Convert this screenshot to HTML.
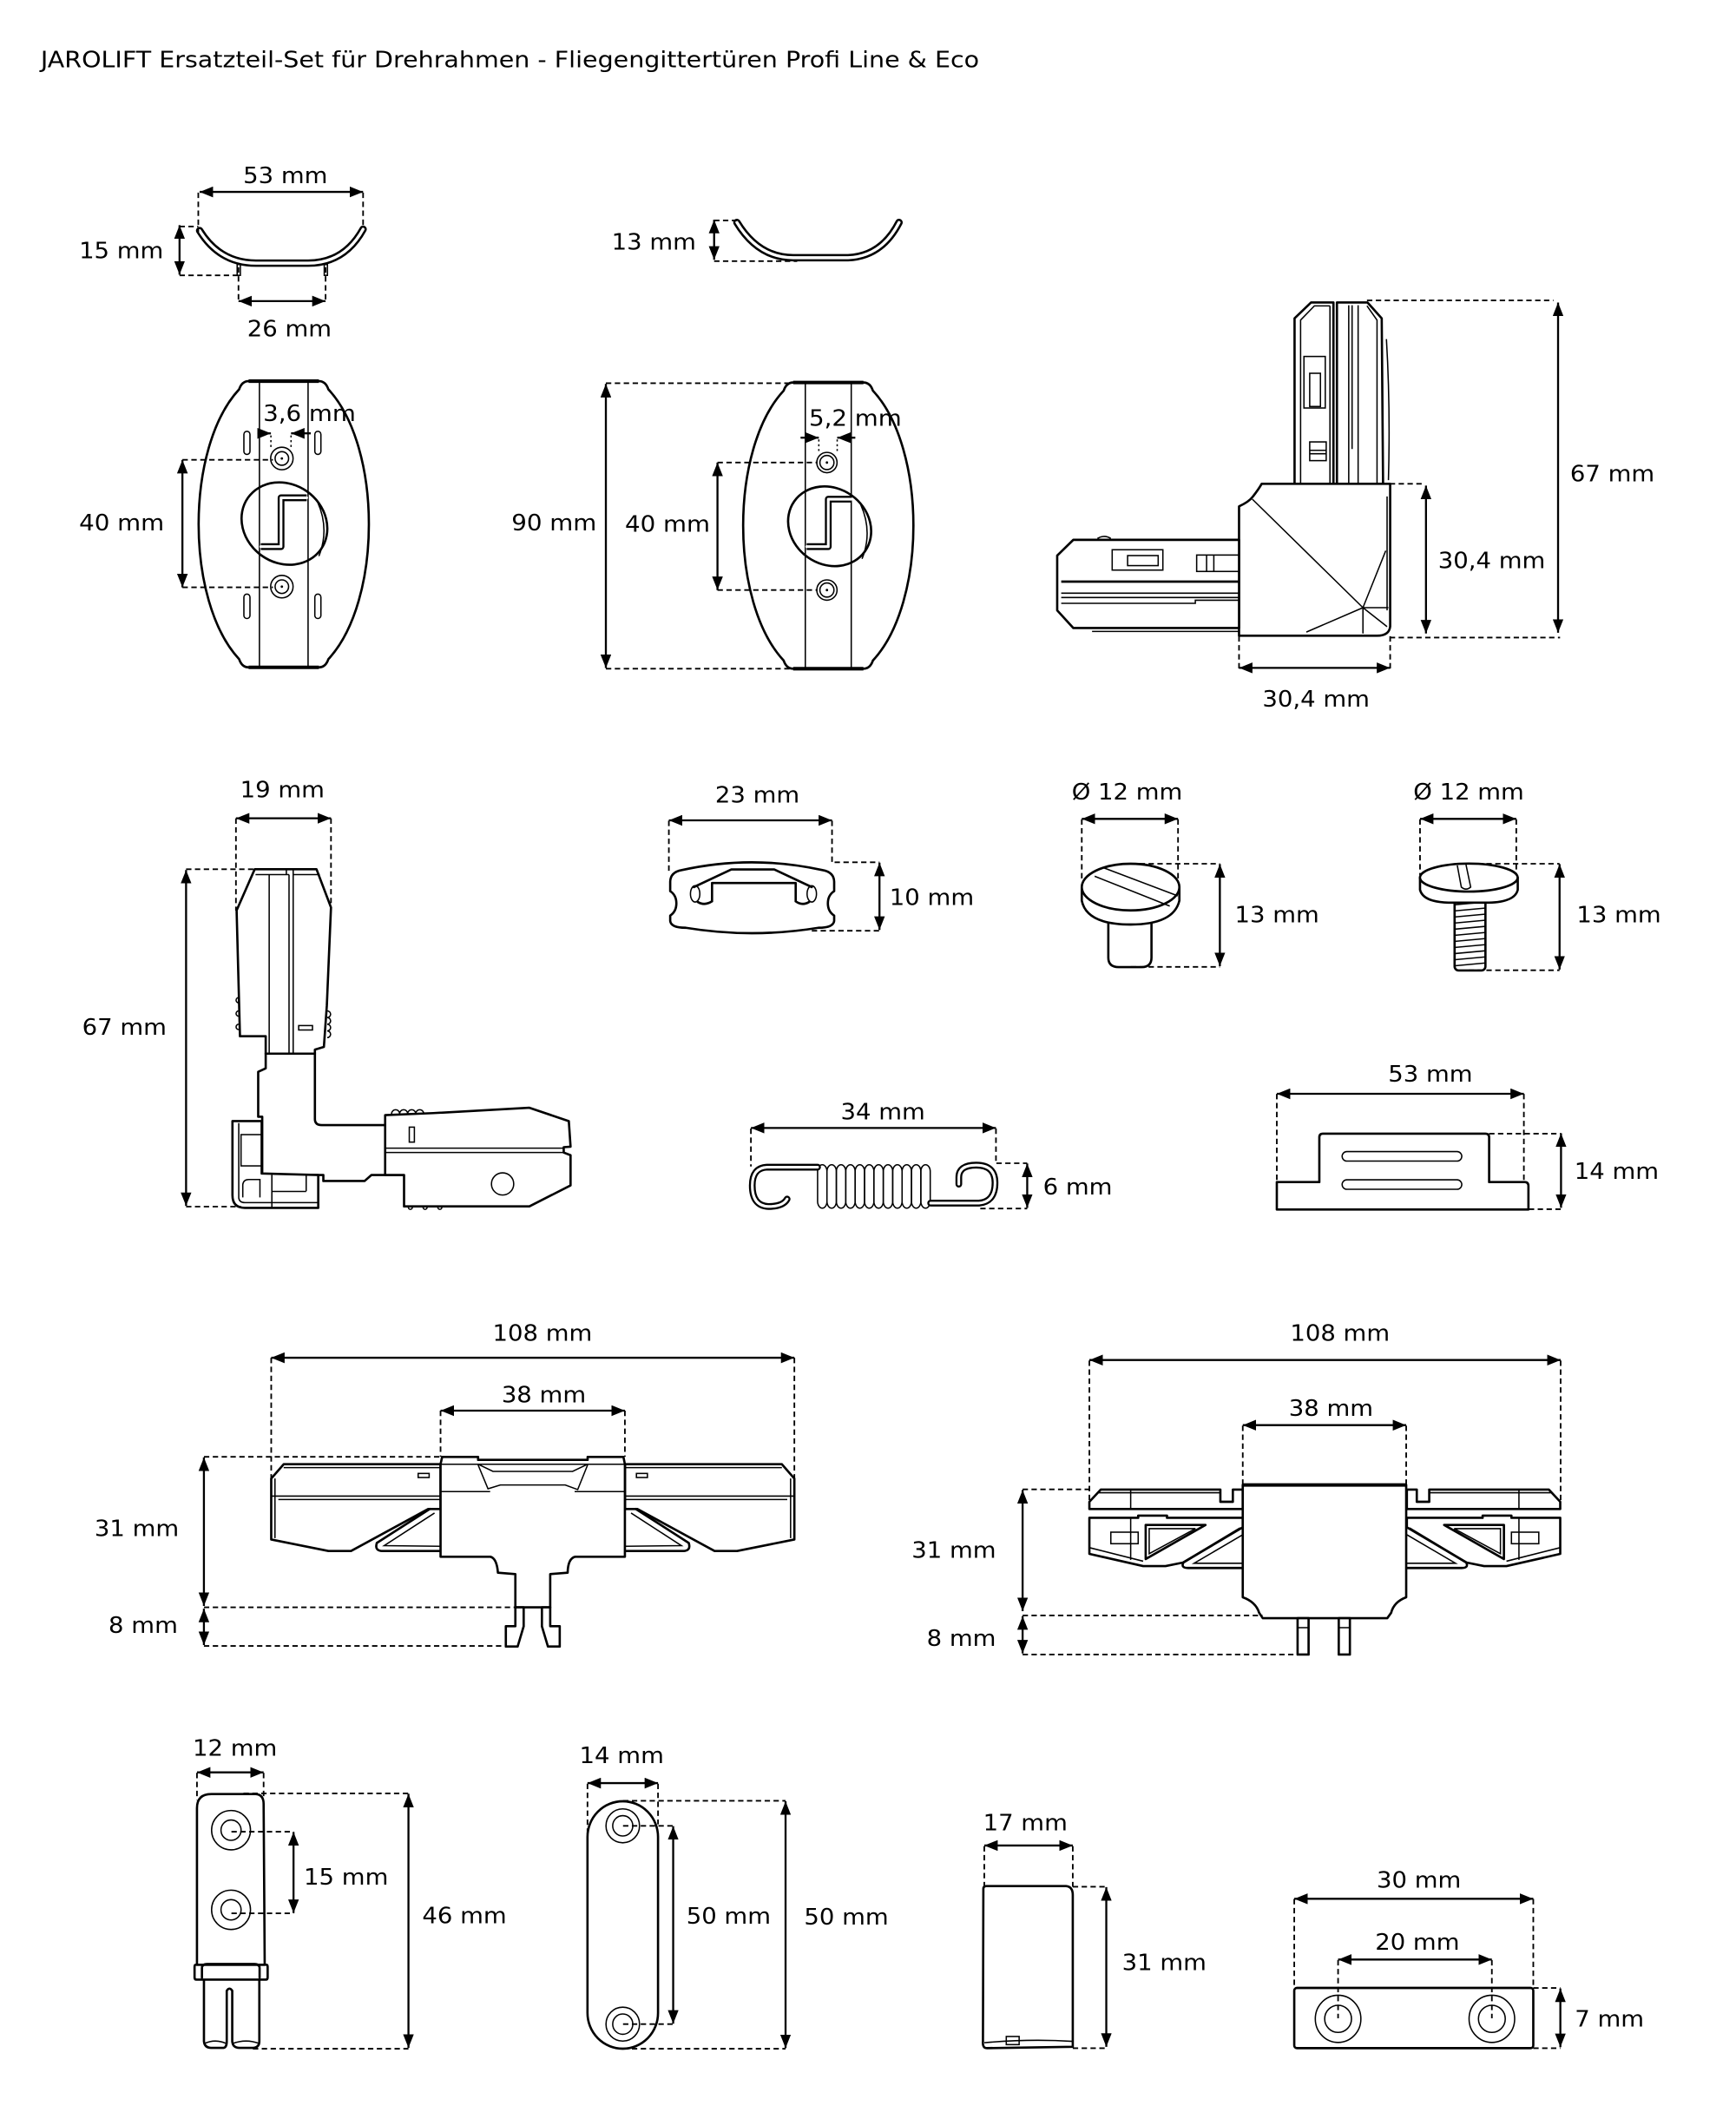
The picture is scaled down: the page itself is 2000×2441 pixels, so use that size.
<!DOCTYPE html>
<html><head><meta charset="utf-8">
<style>
html,body{margin:0;padding:0;background:#fff}
svg{display:block}
text{font-family:"DejaVu Sans","Liberation Sans",sans-serif;font-size:16.5px;fill:#000}
.d{stroke:#000;stroke-width:1.5;fill:none}
.ds{stroke:#000;stroke-width:1.2;fill:none;stroke-dasharray:4 2.6}
.o{stroke:#000;stroke-width:1.7;fill:#fff;stroke-linejoin:round;stroke-linecap:round}
.n{stroke:#000;stroke-width:1.7;fill:none;stroke-linejoin:round;stroke-linecap:round}
.t{stroke:#000;stroke-width:1;fill:none}
.w{stroke:#fff;fill:none;stroke-linecap:round;stroke-linejoin:round}
</style></head>
<body>
<svg width="2000" height="2441" viewBox="0 0 1280 1562.24" xmlns="http://www.w3.org/2000/svg">
<defs>
<marker id="a" viewBox="0 0 10 8" refX="10" refY="4" markerWidth="10" markerHeight="8" markerUnits="userSpaceOnUse" orient="auto-start-reverse"><path d="M0,0 L10,4 L0,8 Z" fill="#000"/></marker>
</defs>
<rect width="1280" height="1562.24" fill="#fff"/>

<text x="30" y="49.5" font-size="15.5" textLength="692" lengthAdjust="spacingAndGlyphs">JAROLIFT Ersatzteil-Set für Drehrahmen - Fliegengittertüren Profi Line &amp; Eco</text>

<!-- ===== ROW 1 ===== -->
<g transform="matrix(0.9879,0,0,1,0,-1)">
<!-- curved clip 1 -->
<path d="M149,171 Q164,195 191,195 L230,195 Q257,195 271,170" stroke="#000" stroke-width="5.5" fill="none" stroke-linecap="round"/>
<path d="M149,171 Q164,195 191,195 L230,195 Q257,195 271,170" class="w" stroke-width="2.2"/>
<rect x="177" y="196" width="2.4" height="8" class="t" fill="#fff"/>
<rect x="242" y="196" width="2.4" height="8" class="t" fill="#fff"/>
<line class="d" x1="149" y1="142.5" x2="271" y2="142.5" marker-start="url(#a)" marker-end="url(#a)"/>
<path class="ds" d="M148,143 V172 M271,143 V169"/>
<line class="d" x1="134" y1="167" x2="134" y2="203.5" marker-start="url(#a)" marker-end="url(#a)"/>
<path class="ds" d="M134,168 H148 M134,204 H178"/>
<line class="d" x1="178" y1="223" x2="243" y2="223" marker-start="url(#a)" marker-end="url(#a)"/>
<path class="ds" d="M178,198 V223 M243,198 V223"/>
<text x="213" y="136" text-anchor="middle" textLength="63" lengthAdjust="spacingAndGlyphs">53 mm</text>
<text x="90.5" y="191.5" text-anchor="middle" textLength="63" lengthAdjust="spacingAndGlyphs">15 mm</text>
<text x="216" y="249" text-anchor="middle" textLength="63" lengthAdjust="spacingAndGlyphs">26 mm</text>

<!-- curved clip 2 -->
<path d="M550,165 Q566,191 592,191 L633,191 Q658,190 671,165" stroke="#000" stroke-width="5.5" fill="none" stroke-linecap="round"/>
<path d="M550,165 Q566,191 592,191 L633,191 Q658,190 671,165" class="w" stroke-width="2.2"/>
<line class="d" x1="533" y1="163" x2="533" y2="192.5" marker-start="url(#a)" marker-end="url(#a)"/>
<path class="ds" d="M533,163.5 H550 M533,193.5 H595"/>
<text x="488" y="185" text-anchor="middle" textLength="63" lengthAdjust="spacingAndGlyphs">13 mm</text>
</g>

<!-- ===== ROW 2 ===== -->
<g transform="matrix(0.99627,0,0,1,0,0)">
<!-- keeper 1 -->
<path class="o" stroke-width="1.9" d="M184,281 L236,281 Q241,281 243,287 C283,330 283,443 243,486 Q241,492 236,492 L184,492 Q179,492 177,486 C137,443 137,330 177,287 Q179,281 184,281 Z"/>
<path d="M184,281 H236 M184,492 H236" stroke="#000" stroke-width="2.6"/>
<ellipse cx="210.5" cy="386" rx="33" ry="29" transform="rotate(35 210.5 386)" class="o" stroke-width="1.3"/>
<path class="t" d="M235,370 Q244,390 236,410"/>
<line class="t" stroke-width="1.2" x1="192" y1="281" x2="192" y2="492"/>
<line class="t" stroke-width="1.2" x1="228" y1="281" x2="228" y2="492"/>
<path d="M193,403 H208 V367 H227" stroke="#000" stroke-width="5" fill="none" stroke-linejoin="round"/>
<path d="M193,403 H208 V367 H227" class="w" stroke-width="2" stroke-linecap="butt"/>
<rect x="180.5" y="318" width="4.5" height="17" rx="2.2" class="t" stroke-width="1.2"/>
<rect x="233" y="318" width="4.5" height="17" rx="2.2" class="t" stroke-width="1.2"/>
<rect x="180.5" y="438" width="4.5" height="18" rx="2.2" class="t" stroke-width="1.2"/>
<rect x="233" y="438" width="4.5" height="18" rx="2.2" class="t" stroke-width="1.2"/>
<circle cx="208.6" cy="338" r="8.3" class="t" stroke-width="1.2" fill="#fff"/>
<circle cx="208.6" cy="338" r="5" class="t" stroke-width="1.2"/>
<circle cx="208.6" cy="338" r="0.9" fill="#000"/>
<circle cx="208.6" cy="432.5" r="8.3" class="t" stroke-width="1.2" fill="#fff"/>
<circle cx="208.6" cy="432.5" r="5" class="t" stroke-width="1.2"/>
<circle cx="208.6" cy="432.5" r="0.9" fill="#000"/>
<line class="d" x1="190.5" y1="319.5" x2="200.5" y2="319.5" marker-end="url(#a)"/>
<line class="d" x1="230" y1="319.5" x2="215.4" y2="319.5" marker-end="url(#a)"/>
<path class="t" stroke-dasharray="1.5 2" d="M200.5,321 V331 M215.4,321 V331"/>
<line class="d" x1="135" y1="339" x2="135" y2="433" marker-start="url(#a)" marker-end="url(#a)"/>
<path class="ds" d="M135,339 H202 M135,433 H202"/>
<text x="229" y="310.5" text-anchor="middle" textLength="68.6" lengthAdjust="spacingAndGlyphs">3,6 mm</text>
<text x="90" y="391" text-anchor="middle" textLength="63" lengthAdjust="spacingAndGlyphs">40 mm</text>

<!-- keeper 2 -->
<path class="o" stroke-width="1.9" d="M587,282 L639,282 Q644,282 646,288 C686,331 686,444 646,487 Q644,493 639,493 L587,493 Q582,493 580,487 C540,444 540,331 580,288 Q582,282 587,282 Z"/>
<path d="M587,282 H639 M587,493 H639" stroke="#000" stroke-width="2.6"/>
<ellipse cx="614" cy="388" rx="32" ry="28" transform="rotate(35 614 388)" class="o" stroke-width="1.3"/>
<path class="t" d="M637,372 Q646,392 638,412"/>
<line class="t" stroke-width="1.2" x1="596" y1="282" x2="596" y2="493"/>
<line class="t" stroke-width="1.2" x1="630" y1="282" x2="630" y2="493"/>
<path d="M597,403 H613 V368 H630" stroke="#000" stroke-width="5" fill="none" stroke-linejoin="round"/>
<path d="M597,403 H613 V368 H630" class="w" stroke-width="2" stroke-linecap="butt"/>
<circle cx="612" cy="341" r="7.5" class="t" stroke-width="1.2" fill="#fff"/>
<circle cx="612" cy="341" r="5.2" class="t" stroke-width="1.2"/>
<circle cx="612" cy="341" r="0.9" fill="#000"/>
<circle cx="612" cy="435" r="7.5" class="t" stroke-width="1.2" fill="#fff"/>
<circle cx="612" cy="435" r="5.2" class="t" stroke-width="1.2"/>
<circle cx="612" cy="435" r="0.9" fill="#000"/>
<line class="d" x1="592.5" y1="322.7" x2="606" y2="322.7" marker-end="url(#a)"/>
<line class="d" x1="633" y1="322.7" x2="619.6" y2="322.7" marker-end="url(#a)"/>
<path class="t" stroke-dasharray="1.5 2" d="M606,324 V334 M619.6,324 V334"/>
<line class="d" x1="448.4" y1="283" x2="448.4" y2="492.5" marker-start="url(#a)" marker-end="url(#a)"/>
<path class="ds" d="M448.4,282.5 H587 M448.4,493 H587"/>
<line class="d" x1="531" y1="341" x2="531" y2="435" marker-start="url(#a)" marker-end="url(#a)"/>
<path class="ds" d="M531,341 H605 M531,435 H605"/>
<text x="633" y="314" text-anchor="middle" textLength="68.6" lengthAdjust="spacingAndGlyphs">5,2 mm</text>
<text x="410" y="391" text-anchor="middle" textLength="63" lengthAdjust="spacingAndGlyphs">90 mm</text>
<text x="494" y="392" text-anchor="middle" textLength="63" lengthAdjust="spacingAndGlyphs">40 mm</text>
</g>

<!-- corner piece top right -->
<g transform="matrix(0.98876,0,0,1,8.27,0)">
<path class="o" d="M957,357 L957,234.7 L969.3,223 L986,223 L986,357 Z"/>
<path class="o" d="M988.6,357 L988.6,223 L1011.4,223 L1022,234.7 L1023,357 Z"/>
<path class="t" d="M961.5,356 V236 L971.8,225.5 H983.4 M983.4,225.5 V356 M997.4,225 V356 M999.9,225 V331 M1004.4,225 V356 M1011,225.5 L1018.5,236 V356"/>
<path class="t" d="M1025.5,250 Q1028.5,300 1027,354"/>
<rect x="964" y="262.8" width="15.9" height="38" class="t" stroke-width="1.3"/>
<rect x="968.3" y="275.2" width="8" height="24.5" class="t" stroke-width="1.2"/>
<rect x="968.3" y="325.8" width="12.3" height="13.8" class="t" stroke-width="1.3"/>
<path class="t" d="M968.3,332 H980.6 M968.3,334.5 H980.6"/>
<path class="o" d="M932.5,356.7 L1028.3,356.7 L1028.3,461.9 Q1027.5,468.7 1018.5,468.7 L915.6,468.7 L915.6,373.3 Q923,370 926,366 Q930,361 932.5,356.7 Z"/>
<path class="t" d="M925.5,368 L1008,448 H1027 M1008,448 V467 M1008,448 L965.8,466 M1008,448 L1026,462 M1008,448 L1025,406 M1026,366 V450"/>
<path class="o" d="M915.6,398 L792,398 L780,409.6 L780,450 L792,463 L915.6,463 Z"/>
<path d="M783,428.8 H915.6" stroke="#000" stroke-width="1.8"/>
<path class="t" d="M783,437.3 H915 M783,440.5 H915 M783,444.8 H883 V442.5 H915 M806,465.5 H915 M810,397 Q815,394 820,397"/>
<rect x="821" y="405.3" width="37.8" height="15" class="t" stroke-width="1.3"/>
<rect x="832.5" y="409.6" width="22.8" height="7.4" class="t" stroke-width="1.3"/>
<rect x="884" y="409.2" width="31.6" height="12.1" class="t" stroke-width="1.3"/>
<path class="t" d="M891.4,409.2 V421.3 M896.8,409.2 V421.3"/>
<line class="d" x1="1153.5" y1="223" x2="1153.5" y2="466.5" marker-start="url(#a)" marker-end="url(#a)"/>
<path class="ds" d="M1011,221.5 H1150 M1028,470 H1155"/>
<line class="d" x1="1055" y1="358" x2="1055" y2="467" marker-start="url(#a)" marker-end="url(#a)"/>
<path class="ds" d="M1028,356.7 H1054"/>
<line class="d" x1="915.6" y1="492.4" x2="1028.3" y2="492.4" marker-start="url(#a)" marker-end="url(#a)"/>
<path class="ds" d="M915.6,469 V495 M1028.3,469 V495"/>
<text x="1194" y="355" text-anchor="middle" textLength="63" lengthAdjust="spacingAndGlyphs">67 mm</text>
<text x="1104" y="419" text-anchor="middle" textLength="80" lengthAdjust="spacingAndGlyphs">30,4 mm</text>
<text x="973" y="521" text-anchor="middle" textLength="80" lengthAdjust="spacingAndGlyphs">30,4 mm</text>
</g>

<!-- ===== ROW 3 ===== -->
<!-- corner piece left -->
<g transform="matrix(0.98846,0,0,0.98523,0.591,8.319)">
<path class="o" d="M189.4,642 L235.5,642 L246.3,670.6 L243.2,744 L241,775 L234.3,777 L234.3,780 L197.6,780 L197.6,767 L178.4,767 L175.9,672.8 Z"/>
<path class="t" d="M200.2,646 V780 M215,646 V780 M218.1,642 V780 M213,642 V646 M190,646 H215 M218,646 H238"/>
<path class="t" d="M243.5,748 a2.5,2.5 0 0 1 0,5 a2.5,2.5 0 0 1 0,5 a2.5,2.5 0 0 1 0,5 a2.5,2.5 0 0 1 0,5 M177.5,738 a2,2 0 0 0 0,4 M177.5,748 a2,2 0 0 0 0,4 M177.5,758 a2,2 0 0 0 0,4"/>
<rect x="222.2" y="759" width="10.3" height="3.3" class="t"/>
<path class="o" d="M197.6,780 L197.6,791 L192,793.6 L192,827.2 L195,827.2 L195,870.8 L236.8,870.8 L240.6,870.8 L240.6,875.3 L271.4,875.3 L276.5,870.8 L300.8,870.8 L300.8,833.5 L239.4,833.5 Q234.3,833.5 234.3,829 L234.3,780 Z"/>
<path class="o" d="M172.8,830.5 L194.6,830.5 L194.6,869.7 L236.8,870.8 L236.8,895.4 L182,895.4 Q172.8,895.4 172.8,886 Z"/>
<path class="t" d="M177.5,832 V888 Q178,891.5 182,891.5 H236.8 M202.2,870.8 V895.4 M227.8,870.8 V883 M202.2,883.1 H227.8"/>
<rect x="179.2" y="840.6" width="15.4" height="23.4" class="t"/>
<path class="t" d="M180.5,887.6 V878 Q181,874.2 185,874.2 H193.3 V887.6"/>
<path class="o" d="M286.7,833.5 L286.7,826 L322.6,824.5 L394.3,820.5 L423.7,830.5 L425,849.6 L419.9,850 L419.9,854 L425,856 L425,878.6 L394.3,894.3 L300.8,894.3 L300.8,870.8 L286.7,870.8 Z"/>
<path class="t" d="M291.5,825 a3,3 0 0 1 6,0 a3,3 0 0 1 6,0 a3,3 0 0 1 6,0 a3,3 0 0 1 6,0"/>
<path class="t" d="M286.7,850.7 H420 M286.7,854 H420"/>
<rect x="304.7" y="835" width="3.8" height="11.2" class="t" stroke-width="1.3"/>
<circle cx="374.3" cy="877.5" r="8.3" class="t" stroke-width="1.3"/>
<path class="t" d="M304,895 a1.5,1.5 0 0 0 3,0 M315,895 a1.5,1.5 0 0 0 3,0 M326,895 a1.5,1.5 0 0 0 3,0"/>
<line class="d" x1="175.4" y1="603.9" x2="246.3" y2="603.9" marker-start="url(#a)" marker-end="url(#a)"/>
<path class="ds" d="M175.4,604 V673 M246.3,604 V670"/>
<line class="d" x1="138.2" y1="642.6" x2="138.2" y2="893.9" marker-start="url(#a)" marker-end="url(#a)"/>
<path class="ds" d="M138.2,642 H189 M138.2,894.5 H179"/>
<text x="210" y="588.2" text-anchor="middle" textLength="63" lengthAdjust="spacingAndGlyphs">19 mm</text>
<text x="92.2" y="766" text-anchor="middle" textLength="63" lengthAdjust="spacingAndGlyphs">67 mm</text>
</g>

<g transform="matrix(0.98848,0,0,1,5.456,0)">
<!-- clip 23 -->
<path class="o" d="M503,641.5 Q555,630 608,641.5 Q616.5,643 616.7,650 L616.7,657 Q612,660 612,666 Q612,672 616.7,675 L616.7,679 Q616,684 605,684 Q555,692 506,684 Q495,684 494.4,679 L494.4,675 Q499,672 499,666 Q499,660 494.4,657 L494.4,650 Q494.6,643 503,641.5 Z"/>
<path class="n" stroke-width="1.4" d="M512,654 L540,641 H572 L600,654"/>
<path class="n" stroke-width="1.4" d="M525.6,664.5 V651 H588 V664.5 M525.6,664.5 Q520,668 515,665 M588,664.5 Q593,668 598,665"/>
<ellipse cx="513" cy="659" rx="3.5" ry="6" class="t" stroke-width="1.3"/>
<ellipse cx="600" cy="659" rx="3.5" ry="6" class="t" stroke-width="1.3"/>
<line class="d" x1="493.4" y1="604.8" x2="615.1" y2="604.8" marker-start="url(#a)" marker-end="url(#a)"/>
<path class="ds" d="M493.4,605 V644 M615.1,605 V638"/>
<line class="d" x1="650.5" y1="636" x2="650.5" y2="685.6" marker-start="url(#a)" marker-end="url(#a)"/>
<path class="ds" d="M617,635.7 H650.5 M600,686.2 H650.5"/>
<text x="559.4" y="591.6" text-anchor="middle" textLength="63" lengthAdjust="spacingAndGlyphs">23 mm</text>
<text x="689.5" y="667.3" text-anchor="middle" textLength="63" lengthAdjust="spacingAndGlyphs">10 mm</text>

<!-- screw 1 -->
<path class="o" d="M821.2,674 L821.2,706 Q821.2,713 829,713 L846,713 Q853.4,713 853.4,706 L853.4,674 Z"/>
<path class="o" d="M801.4,654 L801.4,664 Q805,681.6 837.8,681.6 Q870,681.6 874.2,664 L874.2,654 Z"/>
<ellipse cx="837.8" cy="654" rx="36.4" ry="17.2" class="o"/>
<path class="t" stroke-width="1.3" d="M811,646 L867,668 M817,639.5 L873,660.5"/>
<line class="d" x1="801.4" y1="603.7" x2="873.2" y2="603.7" marker-start="url(#a)" marker-end="url(#a)"/>
<path class="ds" d="M801.4,604 V648 M873.2,604 V650"/>
<line class="d" x1="904.4" y1="637" x2="904.4" y2="712.3" marker-start="url(#a)" marker-end="url(#a)"/>
<path class="ds" d="M838,636.8 H904.4 M838,712.8 H904.4"/>
<text x="835.2" y="589.5" text-anchor="middle" textLength="82.6" lengthAdjust="spacingAndGlyphs">Ø 12 mm</text>
<text x="947" y="680" text-anchor="middle" textLength="63" lengthAdjust="spacingAndGlyphs">13 mm</text>

<!-- screw 2 -->
<rect x="1079.5" y="662" width="23" height="53.5" rx="3" class="o" stroke-width="1.5"/>
<path class="t" d="M1080,667 L1102,665 M1080,671.5 L1102,669.5 M1080,676 L1102,674 M1080,680.5 L1102,678.5 M1080,685 L1102,683 M1080,689.5 L1102,687.5 M1080,694 L1102,692 M1080,698.5 L1102,696.5 M1080,703 L1102,701 M1080,707.5 L1102,705.5 M1080,712 L1102,710"/>
<path class="o" d="M1053.7,647 L1053.7,656 Q1056,665 1075,665.5 L1105,665.5 Q1124.5,665 1126.6,656 L1126.6,647 Z"/>
<ellipse cx="1090.1" cy="647" rx="36.45" ry="10.3" class="o"/>
<path class="t" stroke-width="1.3" d="M1081.5,638 L1084.5,654 Q1088,657 1091.5,654 L1088,637.5"/>
<line class="d" x1="1053.7" y1="603.7" x2="1125.5" y2="603.7" marker-start="url(#a)" marker-end="url(#a)"/>
<path class="ds" d="M1053.7,604 V645 M1125.5,604 V645"/>
<line class="d" x1="1157.8" y1="637" x2="1157.8" y2="714.8" marker-start="url(#a)" marker-end="url(#a)"/>
<path class="ds" d="M1090,636.8 H1157.8 M1090,715.3 H1157.8"/>
<text x="1090" y="589.5" text-anchor="middle" textLength="82.6" lengthAdjust="spacingAndGlyphs">Ø 12 mm</text>
<text x="1202" y="680" text-anchor="middle" textLength="63" lengthAdjust="spacingAndGlyphs">13 mm</text>
</g>

<g transform="matrix(0.98892,0,0,1,5.815,0)">
<!-- spring -->
<g class="t" stroke-width="1.2" fill="#fff">
<rect x="603.7" y="858.7" width="7" height="32" rx="3.5" ry="5"/>
<rect x="610.7" y="858.7" width="7" height="32" rx="3.5" ry="5"/>
<rect x="617.7" y="858.7" width="7" height="32" rx="3.5" ry="5"/>
<rect x="624.7" y="858.7" width="7" height="32" rx="3.5" ry="5"/>
<rect x="631.7" y="858.7" width="7" height="32" rx="3.5" ry="5"/>
<rect x="638.7" y="858.7" width="7" height="32" rx="3.5" ry="5"/>
<rect x="645.7" y="858.7" width="7" height="32" rx="3.5" ry="5"/>
<rect x="652.7" y="858.7" width="7" height="32" rx="3.5" ry="5"/>
<rect x="659.7" y="858.7" width="7" height="32" rx="3.5" ry="5"/>
<rect x="666.7" y="858.7" width="7" height="32" rx="3.5" ry="5"/>
<rect x="673.7" y="858.7" width="7" height="32" rx="3.5" ry="5"/>
<rect x="680.7" y="858.7" width="7" height="32" rx="3.5" ry="5"/>
</g>
<path d="M603.7,860.5 L566,860.5 Q555,861 555,874 Q555,889 567,889.5 Q578,889.5 581,884" stroke="#000" stroke-width="5" fill="none" stroke-linecap="round"/>
<path d="M603.7,860.5 L566,860.5 Q555,861 555,874 Q555,889 567,889.5 Q578,889.5 581,884" class="w" stroke-width="2"/>
<path d="M688,887 L724,887 Q736,886 736,872 Q736,859 722,859 Q709,859 709,868 L709,873" stroke="#000" stroke-width="5" fill="none" stroke-linecap="round"/>
<path d="M688,887 L724,887 Q736,886 736,872 Q736,859 722,859 Q709,859 709,868 L709,873" class="w" stroke-width="2"/>
<line class="d" x1="554" y1="831.6" x2="736.7" y2="831.6" marker-start="url(#a)" marker-end="url(#a)"/>
<path class="ds" d="M554,832 V860 M736.7,832 V858"/>
<line class="d" x1="760" y1="857.8" x2="760" y2="890.5" marker-start="url(#a)" marker-end="url(#a)"/>
<path class="ds" d="M737,857.6 H760 M725,891 H760"/>
<text x="652.4" y="825.2" text-anchor="middle" textLength="63" lengthAdjust="spacingAndGlyphs">34 mm</text>
<text x="797.6" y="880.7" text-anchor="middle" textLength="51.7" lengthAdjust="spacingAndGlyphs">6 mm</text>

<!-- part 53 -->
<path class="o" d="M946.1,871.5 L977.8,871.5 L977.8,838.5 Q977.8,835.8 980.5,835.8 L1101.5,835.8 Q1104.4,835.8 1104.4,838.5 L1104.4,871.5 L1131,871.5 Q1133.7,871.5 1133.7,874.5 L1133.7,891.7 L946.1,891.7 Z"/>
<rect x="994.8" y="849" width="89.2" height="7" rx="3.5" class="t" stroke-width="1.4"/>
<rect x="994.8" y="869.8" width="89.2" height="7" rx="3.5" class="t" stroke-width="1.4"/>
<line class="d" x1="946.1" y1="806.4" x2="1130.3" y2="806.4" marker-start="url(#a)" marker-end="url(#a)"/>
<path class="ds" d="M946.1,806.5 V872 M1130.3,806.5 V870"/>
<line class="d" x1="1158" y1="835.5" x2="1158" y2="890.5" marker-start="url(#a)" marker-end="url(#a)"/>
<path class="ds" d="M1104.4,835.8 H1158 M1134,891.5 H1158"/>
<text x="1060.6" y="797.5" text-anchor="middle" textLength="63" lengthAdjust="spacingAndGlyphs">53 mm</text>
<text x="1199.4" y="869" text-anchor="middle" textLength="63" lengthAdjust="spacingAndGlyphs">14 mm</text>
</g>

<!-- ===== ROW 4 ===== -->
<g transform="matrix(0.98854,0,0,1,0.587,0)">
<g id="h1">
<path class="o" d="M328,1079.5 L211,1079.5 L201.7,1090.1 L201.7,1135 L244.4,1143.5 L261.2,1143.5 L318.8,1112.5 L328,1112.5 Z"/>
<path class="t" d="M201.7,1103 H328 M207,1105.5 H328 M204.5,1090 V1134 M211,1082 H328"/>
<path class="n" stroke-width="1.4" d="M320,1112.5 L280.5,1137.5 Q278.5,1143.5 285,1143.5 L328,1143.5"/>
<path class="t" d="M323.5,1115.5 L286,1139.5 L328,1140"/>
<rect x="311.3" y="1086.3" width="8.2" height="3" class="t"/>
</g>
<use href="#h1" transform="translate(793.6,0) scale(-1,1)"/>
<path class="o" d="M328,1079.5 L329.2,1074.1 L356,1074.1 L356,1076.3 L437.7,1076.3 L437.7,1074.1 L464.4,1074.1 L465.5,1079.5 L465.5,1147.7 L428.4,1147.7 Q423,1149 422.8,1159.5 L409.8,1160.5 L409.8,1185 L383.8,1185 L383.8,1160.5 L370.8,1159.5 Q370,1149 365.2,1147.7 L328,1147.7 Z"/>
<path class="t" d="M328,1079.5 H465.5 M328,1099.7 H365 M428,1099.7 H465.5"/>
<path class="t" stroke-width="1.2" d="M356,1079.5 L367.1,1084.8 H426.5 L437.7,1079.5 M356,1080 L363.4,1097.6 L372.6,1094.8 H421 L430.3,1098.2 L437.7,1080"/>
<path class="o" stroke-width="1.4" d="M383.8,1185 L383.8,1198.9 L376.7,1198.9 L376.7,1213.9 L385.5,1213.9 L390,1199 L390,1185 Z"/>
<path class="o" stroke-width="1.4" d="M409.8,1185 L409.8,1198.9 L416.9,1198.9 L416.9,1213.9 L408.1,1213.9 L403.6,1199 L403.6,1185 Z"/>
<line class="d" x1="201.7" y1="1001" x2="591.9" y2="1001" marker-start="url(#a)" marker-end="url(#a)"/>
<path class="ds" d="M201.7,1001 V1090 M591.9,1001 V1090"/>
<line class="d" x1="328" y1="1040" x2="465.5" y2="1040" marker-start="url(#a)" marker-end="url(#a)"/>
<path class="ds" d="M328,1040 V1074 M465.5,1040 V1074"/>
<line class="d" x1="151.5" y1="1074.5" x2="151.5" y2="1184" marker-start="url(#a)" marker-end="url(#a)"/>
<line class="d" x1="151.5" y1="1186" x2="151.5" y2="1212.8" marker-start="url(#a)" marker-end="url(#a)"/>
<path class="ds" d="M151.5,1074 H328 M151.5,1185 H383.8 M151.5,1213.5 H374.5"/>
<text x="404" y="988.4" text-anchor="middle" textLength="74.3" lengthAdjust="spacingAndGlyphs">108 mm</text>
<text x="405" y="1033.8" text-anchor="middle" textLength="63" lengthAdjust="spacingAndGlyphs">38 mm</text>
<text x="101.4" y="1132.4" text-anchor="middle" textLength="63" lengthAdjust="spacingAndGlyphs">31 mm</text>
<text x="106.2" y="1203.9" text-anchor="middle" textLength="51.7" lengthAdjust="spacingAndGlyphs">8 mm</text>
</g>

<g transform="matrix(0.98854,0,0,1,7.554,0)">
<g id="h2">
<path class="o" d="M804.9,1112.5 L804.9,1107.2 L813.4,1098.2 L902.6,1098.2 L902.6,1107.2 L911.9,1107.2 L911.9,1098.2 L919.3,1098.2 L919.3,1112.5 Z"/>
<path class="t" d="M835.7,1098.2 V1112.5 M812,1100.5 H902"/>
<path class="o" d="M804.9,1119 L841.3,1119 L841.3,1117.4 L862.8,1117.4 L862.8,1119 L919.3,1119 L919.3,1126 L874.7,1152 L861.7,1154.6 L845,1154.6 L804.9,1145.6 Z"/>
<path class="t" d="M835.7,1119 V1150 M804.9,1141 L845,1151"/>
<path class="n" stroke-width="1.4" d="M917,1127 L875,1152 Q873,1156 878.5,1156 L919.3,1156"/>
<path class="t" d="M919.3,1131.5 L883,1152.5 H919.3"/>
<rect x="820.9" y="1129.6" width="20.4" height="8.5" class="t" stroke-width="1.3" fill="#fff"/>
<path class="n" stroke-width="1.4" d="M846.9,1124.3 H891.5 L846.9,1149.4 Z"/>
<path class="t" d="M849.5,1127 H884 L849.5,1145.5 Z"/>
</g>
<use href="#h2" transform="translate(1961,0) scale(-1,1)"/>
<path class="o" d="M919.3,1094.8 L1041.2,1094.8 L1041.2,1177.6 Q1032,1181 1030,1189 L1027.1,1193 L934.2,1193 L931.5,1189 Q929,1181 919.3,1177.6 Z"/>
<path d="M919.3,1094.8 H1041.2" stroke="#000" stroke-width="2.6"/>
<rect x="960.2" y="1193" width="8.2" height="26.8" class="o" stroke-width="1.4"/>
<rect x="990.9" y="1193" width="8.3" height="26.8" class="o" stroke-width="1.4"/>
<path class="t" d="M960.2,1200 H968.4 M990.9,1200 H999.2"/>
<line class="d" x1="804.9" y1="1002.7" x2="1156.4" y2="1002.7" marker-start="url(#a)" marker-end="url(#a)"/>
<path class="ds" d="M804.9,1003 V1107 M1156.4,1003 V1107"/>
<line class="d" x1="919.3" y1="1050.7" x2="1041.2" y2="1050.7" marker-start="url(#a)" marker-end="url(#a)"/>
<path class="ds" d="M919.3,1051 V1094.4 M1041.2,1051 V1094.4"/>
<line class="d" x1="755.1" y1="1098.5" x2="755.1" y2="1187.8" marker-start="url(#a)" marker-end="url(#a)"/>
<line class="d" x1="755.1" y1="1191.5" x2="755.1" y2="1219" marker-start="url(#a)" marker-end="url(#a)"/>
<path class="ds" d="M755.1,1098 H805 M755.1,1191 H934 M755.1,1219.8 H962"/>
<text x="991.8" y="988.4" text-anchor="middle" textLength="74.3" lengthAdjust="spacingAndGlyphs">108 mm</text>
<text x="985.1" y="1043.9" text-anchor="middle" textLength="63" lengthAdjust="spacingAndGlyphs">38 mm</text>
<text x="703.8" y="1148.4" text-anchor="middle" textLength="63" lengthAdjust="spacingAndGlyphs">31 mm</text>
<text x="709.4" y="1213.5" text-anchor="middle" textLength="51.7" lengthAdjust="spacingAndGlyphs">8 mm</text>
</g>

<!-- ===== ROW 5 ===== -->
<g transform="matrix(0.9888,0,0,1,0.573,0)">
<!-- hinge 12 -->
<path class="o" d="M151.5,1459.2 L151.5,1505 Q152,1509.8 157,1509.8 L166,1509.8 Q168.5,1509.5 168.5,1505 L168.5,1467.7 Q170.5,1464.5 172.6,1467.7 L172.6,1505 Q173,1509.8 178,1509.8 L188,1509.8 Q192.8,1509.5 192.8,1505 L192.8,1459.2 Z"/>
<path class="t" d="M152,1506.5 Q160,1503 168,1506.5 M173,1506.5 Q183,1503 192.5,1506.5"/>
<path class="o" d="M145.5,1448.5 L198,1448.5 Q199,1448.5 199,1450 L199,1458 Q199,1459.5 197.5,1459.5 L146,1459.5 Q144.5,1459.5 144.5,1458 L144.5,1450 Q144.5,1448.5 145.5,1448.5 Z"/>
<path class="o" d="M146.3,1448.5 L146.3,1333 Q146.3,1322.7 157,1322.7 L190,1322.7 Q196,1323 196,1330 L196.8,1448.5 Z"/>
<path class="n" stroke-width="1.4" d="M150,1458 V1451 Q150,1448 154,1448 H189 Q193,1448 193,1451 V1458"/>
<circle cx="171.7" cy="1349.3" r="14.5" class="t" stroke-width="1.3"/>
<circle cx="171.7" cy="1349.3" r="7.5" class="t" stroke-width="1.3"/>
<circle cx="171.7" cy="1408" r="14.5" class="t" stroke-width="1.3"/>
<circle cx="171.7" cy="1408" r="7.5" class="t" stroke-width="1.3"/>
<line class="d" x1="146.3" y1="1306.7" x2="196" y2="1306.7" marker-start="url(#a)" marker-end="url(#a)"/>
<path class="ds" d="M146.3,1307 V1327 M196,1307 V1325"/>
<line class="d" x1="218.3" y1="1350.6" x2="218.3" y2="1410.4" marker-start="url(#a)" marker-end="url(#a)"/>
<path class="ds" d="M172,1350.4 H218.3 M172,1410.6 H218.3"/>
<line class="d" x1="304" y1="1322.5" x2="304" y2="1509.8" marker-start="url(#a)" marker-end="url(#a)"/>
<path class="ds" d="M181,1322.2 H304 M188,1510.4 H304"/>
<text x="174.6" y="1294.5" text-anchor="middle" textLength="63" lengthAdjust="spacingAndGlyphs">12 mm</text>
<text x="257.5" y="1389.5" text-anchor="middle" textLength="63" lengthAdjust="spacingAndGlyphs">15 mm</text>
<text x="345.7" y="1417.8" text-anchor="middle" textLength="63" lengthAdjust="spacingAndGlyphs">46 mm</text>

<!-- oval 14 -->
<rect x="437.5" y="1328" width="52.6" height="182.4" rx="26.3" class="o"/>
<circle cx="463.8" cy="1346.1" r="12.5" class="t" stroke-width="1.3"/>
<circle cx="463.8" cy="1346.1" r="7.5" class="t" stroke-width="1.3"/>
<circle cx="463.8" cy="1492.3" r="12.5" class="t" stroke-width="1.3"/>
<circle cx="463.8" cy="1492.3" r="7.5" class="t" stroke-width="1.3"/>
<line class="d" x1="437.5" y1="1314.6" x2="490.1" y2="1314.6" marker-start="url(#a)" marker-end="url(#a)"/>
<path class="ds" d="M437.5,1315 V1352 M490.1,1315 V1345"/>
<line class="d" x1="501.4" y1="1346.3" x2="501.4" y2="1492" marker-start="url(#a)" marker-end="url(#a)"/>
<path class="ds" d="M464,1346.1 H501.4 M464,1492.3 H501.4"/>
<line class="d" x1="585.2" y1="1328" x2="585.2" y2="1510" marker-start="url(#a)" marker-end="url(#a)"/>
<path class="ds" d="M464,1327.6 H585.2 M464,1510.4 H585.2"/>
<text x="463" y="1299.9" text-anchor="middle" textLength="63" lengthAdjust="spacingAndGlyphs">14 mm</text>
<text x="542.7" y="1418.3" text-anchor="middle" textLength="63" lengthAdjust="spacingAndGlyphs">50 mm</text>
<text x="630.5" y="1419" text-anchor="middle" textLength="63" lengthAdjust="spacingAndGlyphs">50 mm</text>
</g>

<g transform="matrix(0.98849,0,0,1,8.103,0)">
<!-- piece 17 -->
<path class="o" d="M725.3,1392.5 Q725.3,1390.5 727.5,1390.5 L787,1390.5 Q792,1391 792,1397 L792,1509 L728,1510 Q724.5,1510 725,1505 Z"/>
<path class="t" d="M726,1506 Q760,1503 792,1505"/>
<rect x="742.4" y="1501.4" width="9.6" height="6" class="t"/>
<line class="d" x1="726" y1="1360.6" x2="792" y2="1360.6" marker-start="url(#a)" marker-end="url(#a)"/>
<path class="ds" d="M726,1361 V1391 M792,1361 V1391"/>
<line class="d" x1="817" y1="1391.3" x2="817" y2="1509" marker-start="url(#a)" marker-end="url(#a)"/>
<path class="ds" d="M792,1391 H817 M792,1510 H817"/>
<text x="756.6" y="1349.6" text-anchor="middle" textLength="63" lengthAdjust="spacingAndGlyphs">17 mm</text>
<text x="860.2" y="1452.4" text-anchor="middle" textLength="63" lengthAdjust="spacingAndGlyphs">31 mm</text>

<!-- piece 30 -->
<rect x="957.2" y="1465.6" width="178.3" height="44.4" rx="2" class="o"/>
<ellipse cx="989.9" cy="1488.4" rx="17" ry="17.4" class="t" stroke-width="1.3"/>
<ellipse cx="989.9" cy="1488.4" rx="10" ry="10" class="t" stroke-width="1.3"/>
<ellipse cx="1104.6" cy="1488.4" rx="17" ry="17.4" class="t" stroke-width="1.3"/>
<ellipse cx="1104.6" cy="1488.4" rx="10" ry="10" class="t" stroke-width="1.3"/>
<line class="d" x1="957.2" y1="1399.9" x2="1135.5" y2="1399.9" marker-start="url(#a)" marker-end="url(#a)"/>
<path class="ds" d="M957.2,1400 V1466 M1135.5,1400 V1466"/>
<line class="d" x1="989.9" y1="1444.7" x2="1104.6" y2="1444.7" marker-start="url(#a)" marker-end="url(#a)"/>
<path class="ds" d="M989.9,1445 V1488 M1104.6,1445 V1488"/>
<line class="d" x1="1155.7" y1="1466" x2="1155.7" y2="1509.3" marker-start="url(#a)" marker-end="url(#a)"/>
<path class="ds" d="M1135.5,1465.6 H1155.7 M1135.5,1510 H1155.7"/>
<text x="1050.2" y="1391.6" text-anchor="middle" textLength="63" lengthAdjust="spacingAndGlyphs">30 mm</text>
<text x="1049" y="1437.5" text-anchor="middle" textLength="63" lengthAdjust="spacingAndGlyphs">20 mm</text>
<text x="1192.3" y="1494" text-anchor="middle" textLength="51.7" lengthAdjust="spacingAndGlyphs">7 mm</text>
</g>
</svg>
</body></html>
